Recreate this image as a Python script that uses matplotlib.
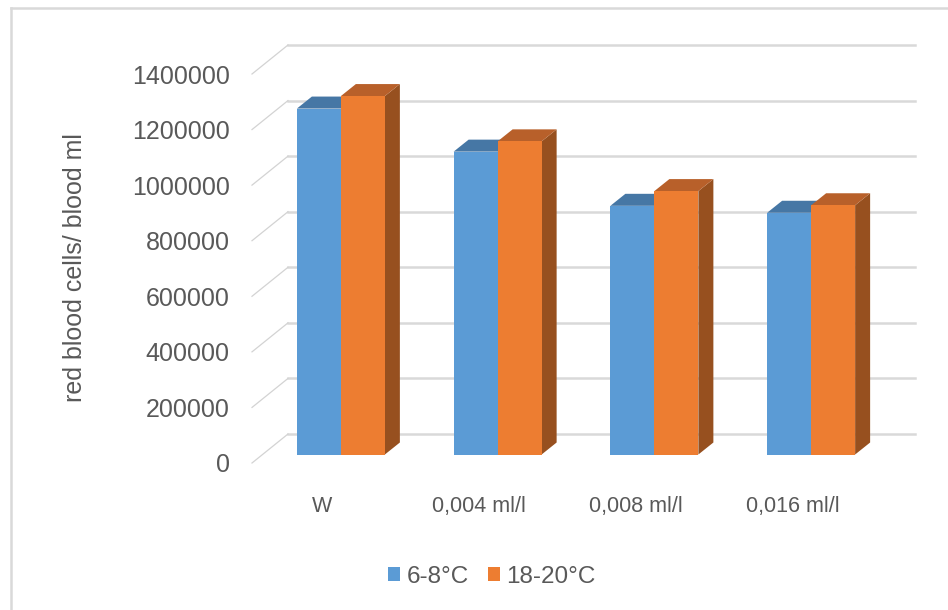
import matplotlib
matplotlib.use("Agg")
import matplotlib.pyplot as plt
import matplotlib.transforms as mtransforms
from matplotlib.patches import Polygon, Patch
from matplotlib.lines import Line2D

plt.rcParams['font.family'] = ['Liberation Sans', 'DejaVu Sans']

categories = ["W", "0,004 ml/l", "0,008 ml/l", "0,016 ml/l"]
series_names = ["6-8°C", "18-20°C"]
cold = [1245000, 1090000, 895000, 870000]
warm = [1290000, 1127000, 948000, 897000]
yticks = [0, 200000, 400000, 600000, 800000, 1000000, 1200000, 1400000]

front_cols = ["#5B9BD5", "#ED7D31"]
top_cols = ["#4677A5", "#B8602A"]
side_cols = ["#3E6A93", "#97501F"]
text_col = "#595959"
grid_col = "#D9D9D9"

W, H = 948, 610
fig = plt.figure(figsize=(W / 100, H / 100), dpi=100)

# front plane of the 3d box, in pixels
L, R, T, B = 252, 879, 74, 463
ax = fig.add_axes([L / W, (H - B) / H, (R - L) / W, (B - T) / H])
ax.set_xlim(-0.5, 3.5)
ax.set_ylim(0, 1400000)
for s in ax.spines.values():
    s.set_visible(False)

# pixel -> data scale
sx = 4.0 / (R - L)
sy = 1400000.0 / (B - T)

# back wall gridlines + diagonal lines on the side wall
wall = mtransforms.offset_copy(ax.transData, fig=fig, x=36, y=29, units='dots')
for v in yticks:
    ax.plot([-0.5, 3.5], [v, v], color=grid_col, lw=1.8, transform=wall,
            clip_on=False, zorder=0)
    ax.plot([-0.5, -0.5 + 36 * sx], [v, v + 29 * sy], color="#D3D3D3",
            lw=0.9, clip_on=False, zorder=0)

# bars sit a bit back from the front plane
bar_tr = mtransforms.offset_copy(ax.transData, fig=fig, x=10.5, y=8.5, units='dots')
bw = 44 / 156.75
ddx, ddy = 15 * sx, 12 * sy

z = 2
for i in range(len(categories)):
    for k, vals in enumerate([cold, warm]):
        x0 = i - bw + k * bw
        x1 = x0 + bw
        h = vals[i]
        side = Polygon([(x1, 0), (x1 + ddx, ddy), (x1 + ddx, h + ddy), (x1, h)],
                       closed=True, fc=side_cols[k], ec='none', transform=bar_tr,
                       clip_on=False, zorder=z)
        top = Polygon([(x0, h), (x1, h), (x1 + ddx, h + ddy), (x0 + ddx, h + ddy)],
                      closed=True, fc=top_cols[k], ec='none', transform=bar_tr,
                      clip_on=False, zorder=z)
        ax.add_patch(side)
        ax.add_patch(top)
        ax.bar(x0, h, width=bw, align='edge', color=front_cols[k],
               transform=bar_tr, clip_on=False, zorder=z + 0.5)
        z += 1

ax.set_yticks(yticks)
ax.set_yticklabels([str(v) for v in yticks])
ax.set_xticks(range(len(categories)))
ax.set_xticklabels(categories)
ax.tick_params(axis='y', length=0, pad=16, labelsize=18, labelcolor=text_col)
ax.tick_params(axis='x', length=0, pad=24, labelsize=15.5, labelcolor=text_col)
for lbl in ax.get_xticklabels():
    lbl.set_transform(lbl.get_transform() +
                      mtransforms.ScaledTranslation(-0.08, 0, fig.dpi_scale_trans))

fig.text(75 / W, 1 - 268 / H, "red blood cells/ blood ml", rotation=90,
         ha='center', va='center', fontsize=18, color=text_col)

handles = [Patch(fc=c, ec='none') for c in front_cols]
fig.legend(handles, series_names, loc='center', bbox_to_anchor=(492 / W, 1 - 577 / H),
           ncol=2, frameon=False, fontsize=17.5, handlelength=0.5, handleheight=0.5,
           handletextpad=0.25, columnspacing=0.8, labelcolor=text_col)

# chart area border (left and top only visible)
fig.add_artist(Line2D([10.5 / W, 10.5 / W], [0, 1 - 7.5 / H], color=grid_col,
                      lw=1.8, transform=fig.transFigure))
fig.add_artist(Line2D([10.5 / W, 1], [1 - 7.5 / H, 1 - 7.5 / H], color=grid_col,
                      lw=1.8, transform=fig.transFigure))

fig.savefig("out.png", dpi=100, facecolor="white")
